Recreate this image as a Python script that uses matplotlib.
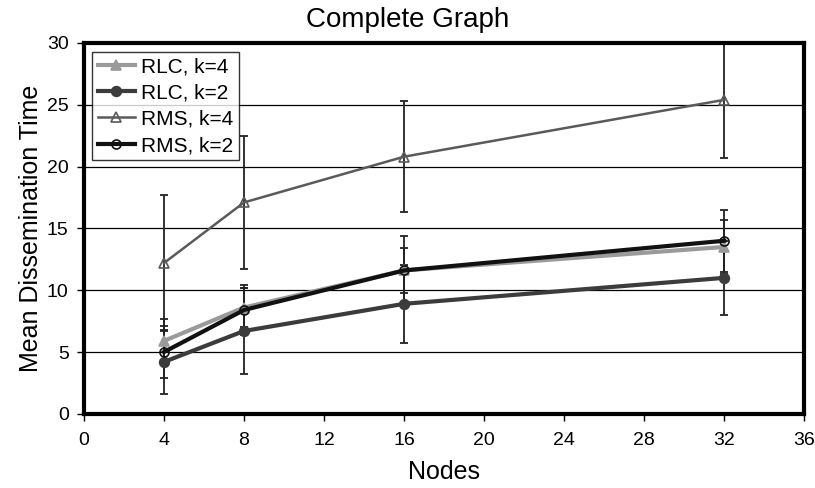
import matplotlib
matplotlib.use("Agg")
import matplotlib.pyplot as plt

plt.rcParams['font.family'] = ['Liberation Sans', 'DejaVu Sans']

nodes = [4, 8, 16, 32]
rlc_k4 = [5.9, 8.6, 11.6, 13.5]
rlc_k4_err = [1.8, 1.6, 1.8, 2.2]
rlc_k2 = [4.2, 6.7, 8.9, 11.0]
rlc_k2_err = [2.6, 3.5, 3.15, 3.0]
rms_k4 = [12.2, 17.1, 20.8, 25.4]
rms_k4_err = [5.5, 5.4, 4.5, 4.7]
rms_k2 = [5.0, 8.4, 11.6, 14.0]
rms_k2_err = [2.1, 2.0, 2.8, 2.5]

xticks = list(range(0, 37, 4))
yticks = list(range(0, 31, 5))

fig = plt.figure(figsize=(8.15, 4.88), dpi=100)
ax = fig.add_axes([0.103, 0.152, 0.884, 0.760])

ax.set_yticks(yticks)
ax.set_xticks(xticks)
ax.set_xlim(0, 36)
ax.set_ylim(0, 30)
ax.yaxis.grid(True, color='black', linewidth=0.9)
ax.set_axisbelow(True)

series = [
    (rlc_k4, rlc_k4_err, 'RLC, k=4', '#9a9a9a', 3.0, '^', '#9a9a9a', 7.5),
    (rlc_k2, rlc_k2_err, 'RLC, k=2', '#3c3c3c', 3.0, 'o', '#3c3c3c', 7),
    (rms_k4, rms_k4_err, 'RMS, k=4', '#5a5a5a', 1.8, '^', 'none', 7),
    (rms_k2, rms_k2_err, 'RMS, k=2', '#111111', 3.0, 'o', 'none', 6.5),
]
for vals, err, lab, col, lw, mk, mfc, ms in series:
    ax.errorbar(nodes, vals, yerr=err, ecolor='#222222', elinewidth=1.3,
                capsize=3.2, capthick=1.3, fmt='none', zorder=2)
for vals, err, lab, col, lw, mk, mfc, ms in series:
    ax.plot(nodes, vals, color=col, linewidth=lw, marker=mk, markersize=ms,
            markerfacecolor=mfc, markeredgecolor=col, markeredgewidth=1.2,
            label=lab, zorder=3)

for s in ax.spines.values():
    s.set_linewidth(3)
    s.set_color('black')

ax.tick_params(axis='both', direction='out', length=5, width=1, labelsize=14)
ax.tick_params(axis='x', pad=8)
ax.tick_params(axis='y', pad=6)
ax.set_xlabel('Nodes', fontsize=18, labelpad=8)
ax.set_ylabel('Mean Dissemination Time', fontsize=18, labelpad=3)
fig.text(0.5, 0.958, 'Complete Graph', fontsize=20, ha='center', va='center')

leg = ax.legend(loc='upper left', bbox_to_anchor=(0.006, 0.987), fontsize=15,
                frameon=True, fancybox=False, edgecolor='black',
                handlelength=1.8, handletextpad=0.3, borderpad=0.25,
                labelspacing=0.35, borderaxespad=0.2)
leg.get_frame().set_linewidth(1.0)

fig.savefig('out.png', dpi=100)
